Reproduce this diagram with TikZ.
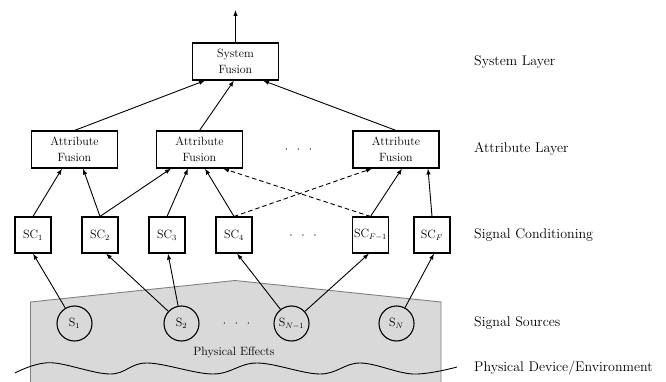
\documentclass[tikz,border=0pt]{standalone}
\usetikzlibrary{arrows.meta,calc}
\begin{document}
\begin{tikzpicture}[x=1pt,y=-1pt,
  box/.style={draw, line width=1.1pt, align=center, inner sep=0pt, font=\fontsize{12}{15.5}\selectfont},
  fusebox/.style={box, minimum width=86pt, minimum height=37pt},
  scbox/.style={box, minimum width=36pt, minimum height=36pt},
  src/.style={circle, draw, line width=1.1pt, minimum size=35pt, inner sep=0pt, font=\fontsize{12}{14}\selectfont},
  lay/.style={anchor=west, inner sep=0pt, font=\fontsize{14}{16}\selectfont},
  dots/.style={inner sep=0pt, font=\fontsize{12}{14}\selectfont},
  arr/.style={-{Latex[length=6pt,width=4.5pt]}, line width=0.9pt},
  dasharr/.style={arr, dash pattern=on 4.5pt off 3pt}
]
\useasboundingbox (0,0) rectangle (666,382);

% physical region
\fill[black!15] (30.5,382) -- (30.5,302) -- (235,280.5) -- (441,302) -- (441,382) -- cycle;
\draw[draw=black!50, line width=0.9pt] (30.5,382) -- (30.5,302) -- (235,280.5) -- (441,302) -- (441,382);
\node[font=\fontsize{12}{14}\selectfont, inner sep=0pt] (pe) at (234,352) {Physical Effects};
\draw[line width=0.9pt] plot[smooth, tension=0.6] coordinates {(15,373) (50,362.7) (110,374) (147,363) (213,374) (257,363) (320,374) (360,363) (413,374) (457,367)};

% system layer
\node[fusebox] (SF) at (235.5,61.5) {System\\Fusion};
\coordinate (out) at (235.5,10);

% attribute layer
\node[fusebox] (AF1) at (74.5,149.5) {Attribute\\Fusion};
\node[fusebox] (AF2) at (199.5,149.5) {Attribute\\Fusion};
\node[fusebox] (AF3) at (396,149.5) {Attribute\\Fusion};
\node[dots] (d1) at (298.5,150) {${\cdot}\mkern13mu{\cdot}\mkern13mu{\cdot}$};

% signal conditioning
\node[scbox] (SC1) at (33,235) {SC$_1$};
\node[scbox] (SC2) at (100,235) {SC$_2$};
\node[scbox] (SC3) at (167,235) {SC$_3$};
\node[scbox] (SC4) at (234,235) {SC$_4$};
\node[dots] (d2) at (303,236) {${\cdot}\mkern13mu{\cdot}\mkern13mu{\cdot}$};
\node[scbox] (SCF1) at (370.5,235) {SC$_{F-1}$};
\node[scbox] (SCF) at (432,235) {SC$_F$};

% sources
\node[src] (S1) at (74.5,323.5) {S$_1$};
\node[src] (S2) at (181.5,323.5) {S$_2$};
\node[dots] (d3) at (236.5,324) {${\cdot}\mkern13mu{\cdot}\mkern13mu{\cdot}$};
\node[src] (SN1) at (291.5,323.5) {S$_{N-1}$};
\node[src] (SN) at (396.5,323.5) {S$_N$};

% labels
\node[lay] (L1) at (474,62) {System Layer};
\node[lay] (L2) at (474,149) {Attribute Layer};
\node[lay] (L3) at (474,235) {Signal Conditioning};
\node[lay] (L4) at (474,323) {Signal Sources};
\node[lay] (L5) at (474,368) {Physical Device/Environment};

% connectors
\draw[arr] (SF.north) -- (out);
\draw[arr] (AF1.north) -- ([xshift=-30.5pt]SF.south);
\draw[arr] (AF2.north) -- ([xshift=-1.5pt]SF.south);
\draw[arr] (AF3.north) -- ([xshift=27.5pt]SF.south);

\draw[arr] (SC1.north) -- ([xshift=-12.5pt]AF1.south);
\draw[arr] (SC2.north) -- ([xshift=8.5pt]AF1.south);
\draw[arr] (SC2.north) -- ([xshift=-28.5pt]AF2.south);
\draw[arr] (SC3.north) -- ([xshift=-11.5pt]AF2.south);
\draw[arr] (SC4.north) -- ([xshift=5.5pt]AF2.south);
\draw[dasharr] (SCF1.north) -- ([xshift=23.5pt]AF2.south);
\draw[dasharr] (SC4.north) -- ([xshift=-24pt]AF3.south);
\draw[arr] (SCF1.north) -- ([xshift=6pt]AF3.south);
\draw[arr] (SCF.north) -- ([xshift=32pt]AF3.south);

\draw[arr] (S1) -- (SC1.south);
\draw[arr] (S2) -- ([xshift=6pt]SC2.south);
\draw[arr] (S2) -- ([xshift=1pt]SC3.south);
\draw[arr] (SN1) -- ([xshift=3pt]SC4.south);
\draw[arr] (SN1) -- ([xshift=-1.5pt]SCF1.south);
\draw[arr] (SN) -- ([xshift=2pt]SCF.south);
\end{tikzpicture}
\end{document}
